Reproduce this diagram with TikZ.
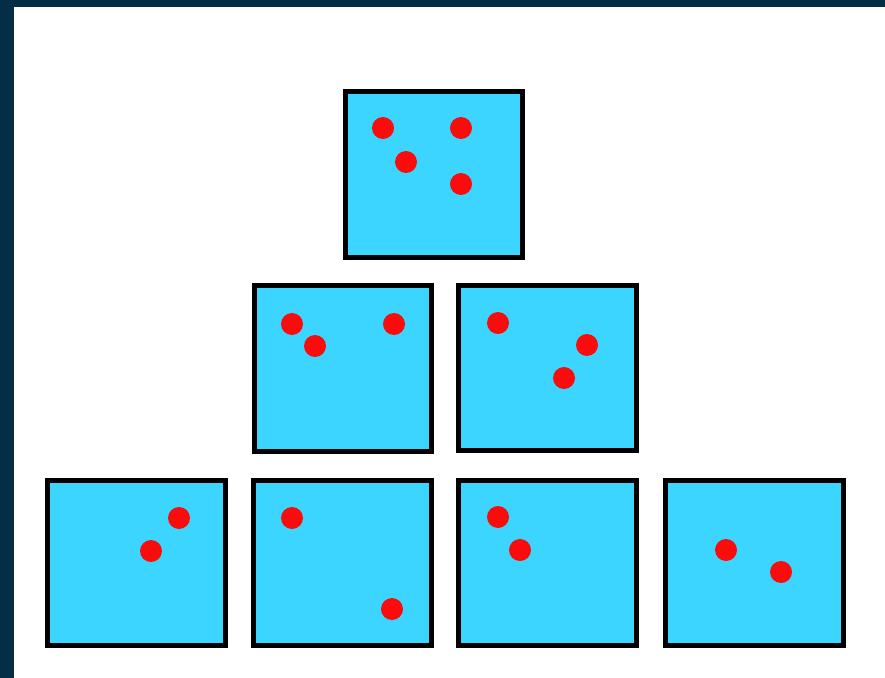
\documentclass[tikz,border=0pt]{standalone}
\usepackage{tikz}

\definecolor{frameblue}{RGB}{3,46,70}
\definecolor{boxcyan}{RGB}{59,213,255}
\definecolor{dotred}{RGB}{250,12,12}

\begin{document}
\begin{tikzpicture}[x=0.03cm, y=-0.03cm,
    cell/.style={fill=boxcyan, draw=black, line width=4.2pt},
    ball/.style={fill=dotred}]
                % page and dark frame
                \fill[white] (0,0) rectangle (885,678);
                \fill[frameblue] (0,0) rectangle (885,7);
                \fill[frameblue] (0,0) rectangle (14,678);
                % top box
                \draw[cell] (345.5,91.5) rectangle (522.5,257.5);
                \fill[ball] (383,128) circle (11);
                \fill[ball] (461,128) circle (11);
                \fill[ball] (406,162) circle (11);
                \fill[ball] (461,184) circle (11);
                % middle row
                \draw[cell] (254.5,285.5) rectangle (431.5,451.5);
                \fill[ball] (292,324) circle (11);
                \fill[ball] (315,346) circle (11);
                \fill[ball] (394,324) circle (11);
                \draw[cell] (458.5,285.5) rectangle (636.5,450.5);
                \fill[ball] (498,323) circle (11);
                \fill[ball] (587,345) circle (11);
                \fill[ball] (564,378) circle (11);
                % bottom row
                \foreach \x in {47.5,253.5,458.5,665.5}
                    \draw[cell] (\x,480.5) rectangle ++(178,165);
                \fill[ball] (179,518) circle (11);
                \fill[ball] (151,551) circle (11);
                \fill[ball] (292,518) circle (11);
                \fill[ball] (392,609) circle (11);
                \fill[ball] (498,517) circle (11);
                \fill[ball] (520,550) circle (11);
                \fill[ball] (726,550) circle (11);
                \fill[ball] (781,572) circle (11);
            \end{tikzpicture}
\end{document}
